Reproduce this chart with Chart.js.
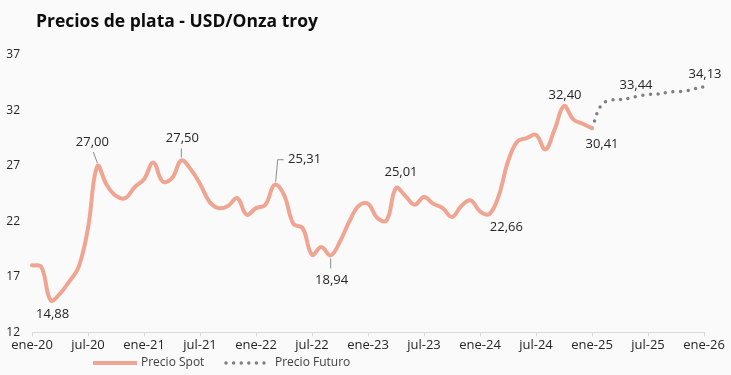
<!DOCTYPE html>
<html><head><meta charset="utf-8">
<script src="https://cdn.jsdelivr.net/npm/chart.js@4"></script>
<style>html,body{margin:0;padding:0;background:#fafafa}</style>
</head><body>
<canvas id="c" width="731" height="375"></canvas>
<script>
// ---- data ----
const monthNames = ['ene','feb','mar','abr','may','jun','jul','ago','sep','oct','nov','dic'];
const years = ['20','21','22','23','24','25','26'];
const categories = [];
years.forEach(y => monthNames.forEach(m => categories.push(m + '-' + y)));
categories.length = 73; // ene-20 .. ene-26

const spotLabel = 'Precio Spot';
const futureLabel = 'Precio Futuro';
const spotValues = [
  18.05, 17.9, 14.88, 15.5, 16.6, 17.9, 21.4, 27.00, 25.3, 24.3, 24.1, 25.1,
  25.8, 27.3, 25.6, 25.9, 27.50, 26.7, 25.4, 23.8, 23.2, 23.4, 24.1, 22.6,
  23.2, 23.5, 25.31, 24.4, 21.8, 21.4, 19.0, 19.7, 18.94, 20.2, 22.0, 23.4,
  23.6, 22.3, 22.1, 25.01, 24.3, 23.5, 24.2, 23.6, 23.2, 22.4, 23.4, 23.9,
  22.9, 22.66, 24.3, 27.4, 29.2, 29.5, 29.8, 28.5, 30.3, 32.40, 31.2, 30.8,
  30.41
];
const futureStart = 60; // ene-25
const futureValues = [30.41, 32.5, 32.92, 32.98, 33.1, 33.3, 33.44, 33.48, 33.62, 33.72, 33.74, 33.96, 34.13];
const yTicks = [12, 17, 22, 27, 32, 37];
const spotLabelIdx = [2, 7, 16, 26, 32, 39, 49, 57, 60];
const futureLabelIdx = [66, 72];

// ---- styles ----
const SPOT_COLOR = '#F0A592';
const FUT_COLOR = '#7f7f7f';
const TEXT = '#262626';
const FONT = "'Open Sans', sans-serif";
const labelStyle = {
  2:  {dx: 2,  dy: 14},
  7:  {dx: -5, dy: -24, leader: [[0,-3],[-4,-14]]},
  16: {dx: 1,  dy: -22, leader: [[0,-3],[0,-12]]},
  26: {dx: 30, dy: -25, leader: [[1,-3],[3,-25],[9,-25]]},
  32: {dx: 1,  dy: 25, leader: [[0,3],[0,13]]},
  39: {dx: 5,  dy: -16},
  49: {dx: 17, dy: 13},
  57: {dx: 1,  dy: -11},
  60: {dx: 10, dy: 16},
  66: {dx: -12, dy: -9},
  72: {dx: 1,  dy: -13}
};

const spotData = categories.map((_, i) => i < spotValues.length ? spotValues[i] : null);
const futureData = categories.map((_, i) => i >= futureStart ? futureValues[i - futureStart] : null);
const fmt = v => v.toFixed(2).replace('.', ',');

const decor = {
  id: 'decor',
  beforeDraw(chart) {
    const ctx = chart.ctx;
    ctx.save();
    ctx.fillStyle = '#fafafa';
    ctx.fillRect(0, 0, chart.width, chart.height);
    ctx.fillStyle = '#0d0d0d';
    ctx.font = "bold 17.5px " + FONT;
    ctx.textAlign = 'left';
    ctx.textBaseline = 'middle';
    ctx.fillText('Precios de plata - USD/Onza troy', 36, 22);
    ctx.restore();
  },
  afterDraw(chart) {
    const ctx = chart.ctx;
    ctx.save();
    // data labels
    ctx.font = "13px " + FONT;
    ctx.fillStyle = TEXT;
    ctx.textAlign = 'center';
    ctx.textBaseline = 'middle';
    const draw = (dsIndex, idx, val) => {
      const pt = chart.getDatasetMeta(dsIndex).data[idx];
      const st = labelStyle[idx];
      if (st.leader) {
        ctx.beginPath();
        ctx.strokeStyle = '#8c8c8c';
        ctx.lineWidth = 1;
        st.leader.forEach((p, k) => {
          const x = pt.x + p[0], y = pt.y + p[1];
          k ? ctx.lineTo(x, y) : ctx.moveTo(x, y);
        });
        ctx.stroke();
      }
      ctx.fillText(fmt(val), pt.x + st.dx, pt.y + st.dy);
    };
    spotLabelIdx.forEach(i => draw(0, i, spotData[i]));
    futureLabelIdx.forEach(i => draw(1, i, futureData[i]));

    // legend
    const ly = 363;
    const ds = chart.data.datasets;
    ctx.font = "12px " + FONT;
    ctx.textAlign = 'left';
    ctx.fillStyle = '#404040';
    ctx.lineCap = 'butt';
    ctx.setLineDash([]);
    ctx.strokeStyle = ds[0].borderColor;
    ctx.lineWidth = 4;
    ctx.beginPath(); ctx.moveTo(93, ly); ctx.lineTo(137, ly); ctx.stroke();
    ctx.fillText(ds[0].label, 141, ly);
    ctx.strokeStyle = ds[1].borderColor;
    ctx.lineWidth = ds[1].borderWidth;
    ctx.lineCap = 'round';
    ctx.setLineDash(ds[1].borderDash);
    ctx.beginPath(); ctx.moveTo(226, ly); ctx.lineTo(268, ly); ctx.stroke();
    ctx.setLineDash([]);
    ctx.fillText(ds[1].label, 275, ly);
    ctx.restore();
  }
};

new Chart(document.getElementById('c'), {
  type: 'line',
  data: {
    labels: categories,
    datasets: [
      {label: spotLabel, data: spotData, borderColor: SPOT_COLOR, borderWidth: 4,
       tension: 0.4, pointRadius: 0, spanGaps: false, borderCapStyle: 'round'},
      {label: futureLabel, data: futureData, borderColor: FUT_COLOR, borderWidth: 3.5,
       borderDash: [0, 7.6], borderCapStyle: 'round', tension: 0.4, pointRadius: 0}
    ]
  },
  options: {
    responsive: false,
    animation: false,
    devicePixelRatio: 1,
    layout: {padding: {top: 55, right: 27, bottom: 21, left: 0}},
    plugins: {legend: {display: false}, title: {display: false}, tooltip: {enabled: false}},
    scales: {
      x: {
        offset: false,
        grid: {drawOnChartArea: false, drawTicks: true, tickLength: 4,
               tickColor: c => (c.index % 6 === 0 ? '#d9d9d9' : 'rgba(0,0,0,0)')},
        border: {display: true, color: '#d9d9d9', width: 1},
        ticks: {autoSkip: false, maxRotation: 0, padding: 1, color: TEXT,
                font: {family: FONT, size: 13},
                callback: (v, i) => (i % 6 === 0 ? categories[i] : '')}
      },
      y: {
        min: 12, max: 37,
        afterFit: s => { s.width = 32; },
        afterBuildTicks: s => { s.ticks = yTicks.map(v => ({value: v})); },
        grid: {display: false},
        border: {display: false},
        ticks: {padding: 4, color: TEXT, font: {family: FONT, size: 12}}
      }
    }
  },
  plugins: [decor]
});
</script>
</body></html>
